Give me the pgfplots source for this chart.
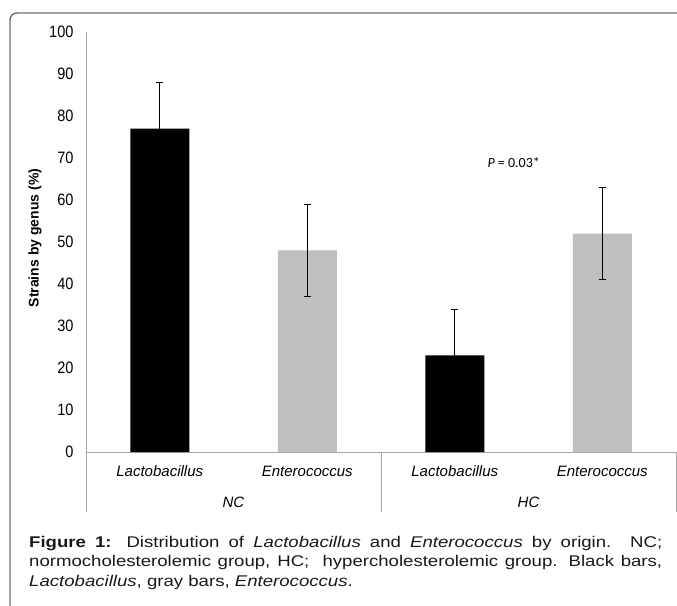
\documentclass[border=0pt]{standalone}
\usepackage{pgfplots}
\pgfplotsset{compat=1.18}
\usepackage{fontspec}
\setmainfont{Liberation Sans}
\newfontfamily\carlito{Carlito}
\newfontfamily\capfont[FakeStretch=1.2]{Liberation Sans}
\newfontfamily\tickfont[FakeStretch=0.88]{Liberation Sans}
\definecolor{framegray}{HTML}{6E6E6E}
\definecolor{axgray}{HTML}{A6A6A6}
\definecolor{bargray}{HTML}{BFBFBF}
\begin{document}
\begin{tikzpicture}
\useasboundingbox (0pt,0pt) rectangle (677pt,-605pt);
\draw[framegray, line width=1.4pt, rounded corners=7pt] (10pt,-610pt) -- (10pt,-13pt) -- (690pt,-13pt);
\begin{axis}[
  at={(86pt,-452pt)}, anchor=south west,
  scale only axis, width=590pt, height=420pt,
  xmin=0, xmax=4, ymin=0, ymax=100,
  axis x line*=bottom, axis y line*=left,
  axis line style={axgray, line width=0.9pt, -},
  xtick=\empty,
  ytick={0,10,...,100},
  major tick length=0pt,
  yticklabel style={font=\tickfont\fontsize{16.5}{18}\selectfont, anchor=east, xshift=-9pt},
  /pgf/number format/assume math mode=true,
  clip=false,
  bar width=0.4,
]
\addplot[ybar, bar shift=0pt, fill=black, draw=none,
  error bars/.cd, y dir=both, y explicit,
  error bar style={black, line width=0.7pt},
  error mark options={rotate=90, mark size=3.5pt, black, line width=0.7pt}]
  coordinates {(0.5,77) +- (0,11) (2.5,23) +- (0,11)};
\addplot[ybar, bar shift=0pt, fill=bargray, draw=none,
  error bars/.cd, y dir=both, y explicit,
  error bar style={black, line width=0.7pt},
  error mark options={rotate=90, mark size=3.5pt, black, line width=0.7pt}]
  coordinates {(1.5,48) +- (0,11) (3.5,52) +- (0,11)};
\foreach \xx in {0,2,4} {
  \edef\tmp{\noexpand\draw[axgray, line width=0.9pt] (axis cs:\xx,0) -- ++(0pt,-60pt);}\tmp
}
\node[font=\itshape\fontsize{15}{17}\selectfont] at (axis cs:0.5,0) [yshift=-19pt] {Lactobacillus};
\node[font=\itshape\fontsize{15}{17}\selectfont] at (axis cs:1.5,0) [yshift=-19pt] {Enterococcus};
\node[font=\itshape\fontsize{15}{17}\selectfont] at (axis cs:2.5,0) [yshift=-19pt] {Lactobacillus};
\node[font=\itshape\fontsize{15}{17}\selectfont] at (axis cs:3.5,0) [yshift=-19pt] {Enterococcus};
\node[font=\itshape\fontsize{15}{17}\selectfont] at (axis cs:1,0) [yshift=-50pt] {NC};
\node[font=\itshape\fontsize{15}{17}\selectfont] at (axis cs:3,0) [yshift=-50pt] {HC};
\node[font=\carlito\fontsize{14}{16}\selectfont] at (axis cs:2.9,69) {\textit{P} = 0.03*};
\end{axis}
\node[rotate=90, font=\bfseries\fontsize{14}{16}\selectfont] at (35pt,-238pt) {Strains by genus (\%)};
\node[anchor=north west, text width=633pt, align=justify, inner sep=0pt,
  font=\capfont\fontsize{15.5}{19.3}\selectfont, text=black!90] at (29pt,-536pt)
  {\textbf{Figure 1:} Distribution of \textit{Lactobacillus} and \textit{Enterococcus} by origin. NC;\linebreak
  normocholesterolemic group, HC;\ \ hypercholesterolemic group. Black bars,\linebreak
  \textit{Lactobacillus}, gray bars, \textit{Enterococcus}.};
\end{tikzpicture}
\end{document}
